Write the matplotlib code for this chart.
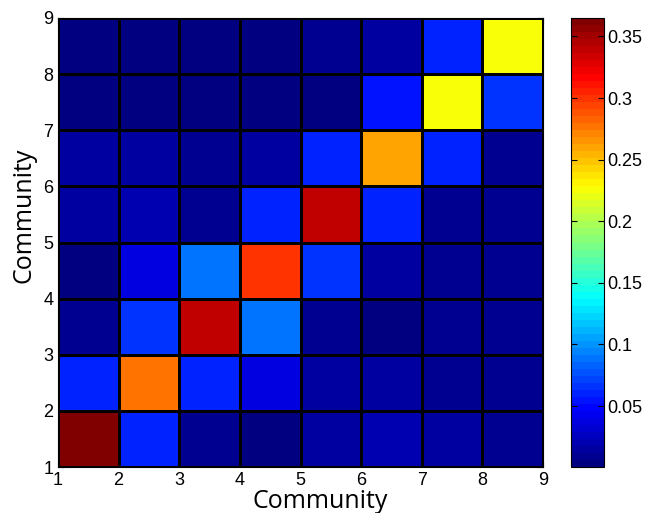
import numpy as np
import matplotlib
matplotlib.use("Agg")
import matplotlib.pyplot as plt
from matplotlib.colors import LinearSegmentedColormap

plt.rcParams['font.family'] = ['Liberation Sans', 'DejaVu Sans']

communities = [1, 2, 3, 4, 5, 6, 7, 8, 9]
# rows: y = 1..8 (bottom to top), columns: x = 1..8
row1 = [0.365, 0.063, 0.010, 0.005, 0.015, 0.022, 0.012, 0.008]
row2 = [0.063, 0.279, 0.063, 0.035, 0.017, 0.012, 0.010, 0.008]
row3 = [0.010, 0.068, 0.337, 0.086, 0.010, 0.005, 0.008, 0.008]
row4 = [0.005, 0.035, 0.086, 0.302, 0.068, 0.017, 0.008, 0.008]
row5 = [0.012, 0.020, 0.010, 0.063, 0.342, 0.063, 0.008, 0.008]
row6 = [0.017, 0.012, 0.008, 0.015, 0.063, 0.262, 0.063, 0.008]
row7 = [0.004, 0.004, 0.004, 0.004, 0.006, 0.057, 0.228, 0.068]
row8 = [0.004, 0.004, 0.004, 0.004, 0.010, 0.012, 0.063, 0.224]
cbar_ticks = [0.05, 0.1, 0.15, 0.2, 0.25, 0.3, 0.35]
cbar_labels = ['0.05', '0.1', '0.15', '0.2', '0.25', '0.3', '0.35']

Z = np.array([row1, row2, row3, row4, row5, row6, row7, row8])

# MATLAB-style jet colormap
jet_dict = {
    'red':   [(0, 0, 0), (3/8, 0, 0), (5/8, 1, 1), (7/8, 1, 1), (1, 0.5, 0.5)],
    'green': [(0, 0, 0), (1/8, 0, 0), (3/8, 1, 1), (5/8, 1, 1), (7/8, 0, 0), (1, 0, 0)],
    'blue':  [(0, 0.5, 0.5), (1/8, 1, 1), (3/8, 1, 1), (5/8, 0, 0), (1, 0, 0)],
}
cmap = LinearSegmentedColormap('mjet', jet_dict, N=64)

fig = plt.figure(figsize=(6.65, 5.13), dpi=100)
ax = fig.add_axes([58/665, 1-467/513, (543-58)/665, (467-18)/513])
cax = fig.add_axes([571/665, 1-467/513, (604-571)/665, (467-18)/513])

x = np.array(communities)
mesh = ax.pcolormesh(x, x, Z, cmap=cmap, vmin=0.0005, vmax=0.365,
                     edgecolors='black', linewidth=1.0)
ax.set_xlim(1, 9)
ax.set_ylim(1, 9)
ax.set_xticks(communities)
ax.set_yticks(communities)
ax.tick_params(direction='in', top=True, right=True, labelsize=13, length=4)
ax.tick_params(axis='x', pad=3.5)
ax.set_xlabel('Community', fontsize=18, family=['Open Sans', 'DejaVu Sans'])
ax.set_ylabel('Community', fontsize=18, family=['Open Sans', 'DejaVu Sans'])
ax.xaxis.set_label_coords((320-58)/485, (467-489)/449)
ax.yaxis.set_label_coords((36-58)/485, (467-215)/449)
for s in ax.spines.values():
    s.set_linewidth(0.8)

cb = fig.colorbar(mesh, cax=cax)
cb.set_ticks(cbar_ticks)
cb.set_ticklabels(cbar_labels)
cax.tick_params(direction='in', labelsize=13, length=4, left=True, right=True, pad=2.5)
cb.outline.set_linewidth(0.8)

fig.savefig('out.png', dpi=100)
